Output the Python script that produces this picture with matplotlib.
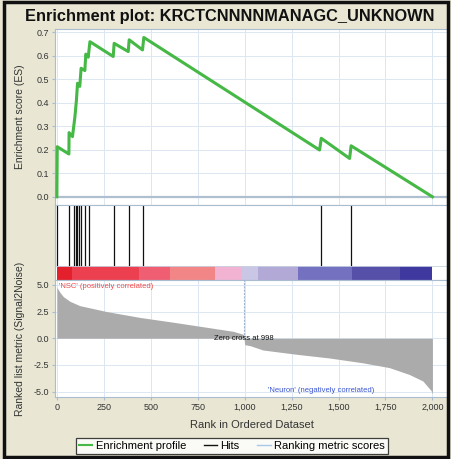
import matplotlib
matplotlib.use("Agg")
import matplotlib.pyplot as plt
from matplotlib.lines import Line2D
from matplotlib.patches import Rectangle

plt.rcParams['font.family'] = ['Liberation Sans', 'DejaVu Sans']

# running enrichment score (vertices)
es_rank = [0, 2, 64, 65, 83, 96, 104, 110, 122, 129, 149, 154, 167, 176,
           300, 305, 380, 385, 456, 463, 1399, 1408, 1559, 1567, 2000]
es_val = [0.0, 0.213, 0.182, 0.273, 0.256, 0.34, 0.41, 0.483, 0.47, 0.547,
          0.537, 0.607, 0.594, 0.66, 0.597, 0.653, 0.618, 0.668, 0.625, 0.678,
          0.199, 0.249, 0.163, 0.217, 0.0]

# positions of gene set members in the ranked list
hits = [2, 62, 90, 100, 108, 118, 126, 152, 172, 303, 384, 459, 1404, 1564]

# ranked list metric (signal2noise)
metric_rank = [0, 16, 34, 69, 122, 264, 441, 619, 796, 938, 973, 995,
               1000, 1030, 1097, 1275, 1452, 1629, 1771, 1878, 1949, 1993, 2000]
metric_val = [4.77, 4.3, 3.9, 3.46, 3.05, 2.5, 1.95, 1.5, 1.03, 0.65, 0.47, 0.35,
              -0.6, -0.7, -1.1, -1.5, -1.85, -2.3, -2.75, -3.4, -4.0, -4.9, -5.2]
zero_cross = 998

# heat bar blocks along the ranked list
heat_bounds = [0, 80, 440, 602, 842, 984, 1073, 1286, 1570, 1828, 2000]
heat_colors = ['#E3202C', '#EC4050', '#EF5E72', '#F28585', '#F2B3D3',
               '#C9C6E6', '#B3A9D6', '#7471C0', '#5750A9', '#3F389F']

W, H = 451, 459
bg = '#E9E7D4'
grid_c = '#DCE7F2'
spine_c = '#A9BCD0'

fig = plt.figure(figsize=(W / 100, H / 100), dpi=100, facecolor=bg)


def px_axes(left, top, right, bottom):
    return fig.add_axes([left / W, 1 - bottom / H, (right - left) / W, (bottom - top) / H])


ax1 = px_axes(55, 29, 448, 205)
ax2 = px_axes(55, 205, 448, 280)
ax3 = px_axes(55, 280, 448, 397)

xlim = (-10, 2083)
xt = [0, 250, 500, 750, 1000, 1250, 1500, 1750, 2000]

for ax in (ax1, ax2, ax3):
    ax.set_xlim(*xlim)
    ax.set_facecolor('white')
    for s in ax.spines.values():
        s.set_color(spine_c)
        s.set_linewidth(0.8)
    ax.tick_params(labelsize=6.5, colors='#333333', length=2, pad=2, color=spine_c)

# top panel: ES curve
ax1.set_ylim(-0.035, 0.714)
ax1.set_yticks([0.0, 0.1, 0.2, 0.3, 0.4, 0.5, 0.6, 0.7])
ax1.set_yticklabels(['0.0', '0.1', '0.2', '0.3', '0.4', '0.5', '0.6', '0.7'])
ax1.set_xticks(xt)
ax1.tick_params(axis='x', labelbottom=False, length=0)
ax1.grid(True, color=grid_c, lw=0.7)
ax1.set_axisbelow(True)
ax1.axhline(0, color='#AEBFD0', lw=1.6, zorder=1)
ax1.plot(es_rank, es_val, color='#45B845', lw=2.2, zorder=3)
ax1.set_ylabel('Enrichment score (ES)', fontsize=7.5, color='#333333')
ax1.yaxis.set_label_coords(-0.076, 0.5)
fig.text(0.51, 1 - 16 / H, 'Enrichment plot: KRCTCNNNNMANAGC_UNKNOWN',
         ha='center', va='center', fontsize=11.8, fontweight='bold', color='#111111')

# middle panel: hits + heat bar
bar_h = 0.187
ax2.set_ylim(0, 1)
ax2.set_yticks([])
ax2.set_xticks([])
ax2.vlines(hits, bar_h, 1, color='#111111', lw=0.9)
for a, b, c in zip(heat_bounds[:-1], heat_bounds[1:], heat_colors):
    ax2.bar(a, bar_h, width=b - a, bottom=0, align='edge', color=c, linewidth=0)
ax2.axhline(bar_h, color='#C8D4E2', lw=0.6)

# bottom panel: ranked list metric
ax3.set_ylim(-5.5, 5.45)
ax3.set_yticks([-5.0, -2.5, 0.0, 2.5, 5.0])
ax3.set_yticklabels(['-5.0', '-2.5', '0.0', '2.5', '5.0'])
ax3.set_xticks(xt)
ax3.set_xticklabels(['0', '250', '500', '750', '1,000', '1,250', '1,500', '1,750', '2,000'])
ax3.grid(True, color=grid_c, lw=0.7)
ax3.set_axisbelow(True)
ax3.fill_between(metric_rank, metric_val, 0, color='#ABABAB', lw=0, zorder=2)
y0, y1 = ax3.get_ylim()
ax3.axvline(zero_cross, ymin=(0 - y0) / (y1 - y0), ymax=1, color='#9DB4CC', lw=0.8,
            ls=(0, (2, 1)), zorder=3)
ax3.text(12, 4.85, "'NSC' (positively correlated)", color='#F04A4A', fontsize=5.5,
         ha='left', va='center')
ax3.text(zero_cross, 0, 'Zero cross at 998', color='#111111', fontsize=5.5,
         ha='center', va='center', zorder=4)
ax3.text(1407, -4.85, "'Neuron' (negatively correlated)", color='#3A55D0', fontsize=5.5,
         ha='center', va='center', zorder=4)
ax3.set_ylabel('Ranked list metric (Signal2Noise)', fontsize=7.5, color='#333333')
ax3.yaxis.set_label_coords(-0.076, 0.5)
ax3.set_xlabel('Rank in Ordered Dataset', fontsize=8, color='#333333')
ax3.xaxis.set_label_coords(0.5, -0.195)

handles = [Line2D([], [], color='#45B845', lw=1.5),
           Line2D([], [], color='#111111', lw=1.0),
           Line2D([], [], color='#A8C8E8', lw=1.0)]
leg = fig.legend(handles, ['Enrichment profile', 'Hits', 'Ranking metric scores'],
                 loc='center', bbox_to_anchor=(232 / W, 1 - 446 / H), ncol=3,
                 fontsize=8, frameon=True, fancybox=False, handlelength=1.2,
                 handletextpad=0.3, columnspacing=1.6, borderpad=0.3)
leg.get_frame().set_edgecolor('#111111')
leg.get_frame().set_linewidth(0.9)

fig.patches.append(Rectangle((4 / W, 2 / H), (W - 7) / W, (H - 4) / H,
                             transform=fig.transFigure, fill=False,
                             edgecolor='#111111', lw=2.5))

fig.savefig('out.png', dpi=100, facecolor=bg)
